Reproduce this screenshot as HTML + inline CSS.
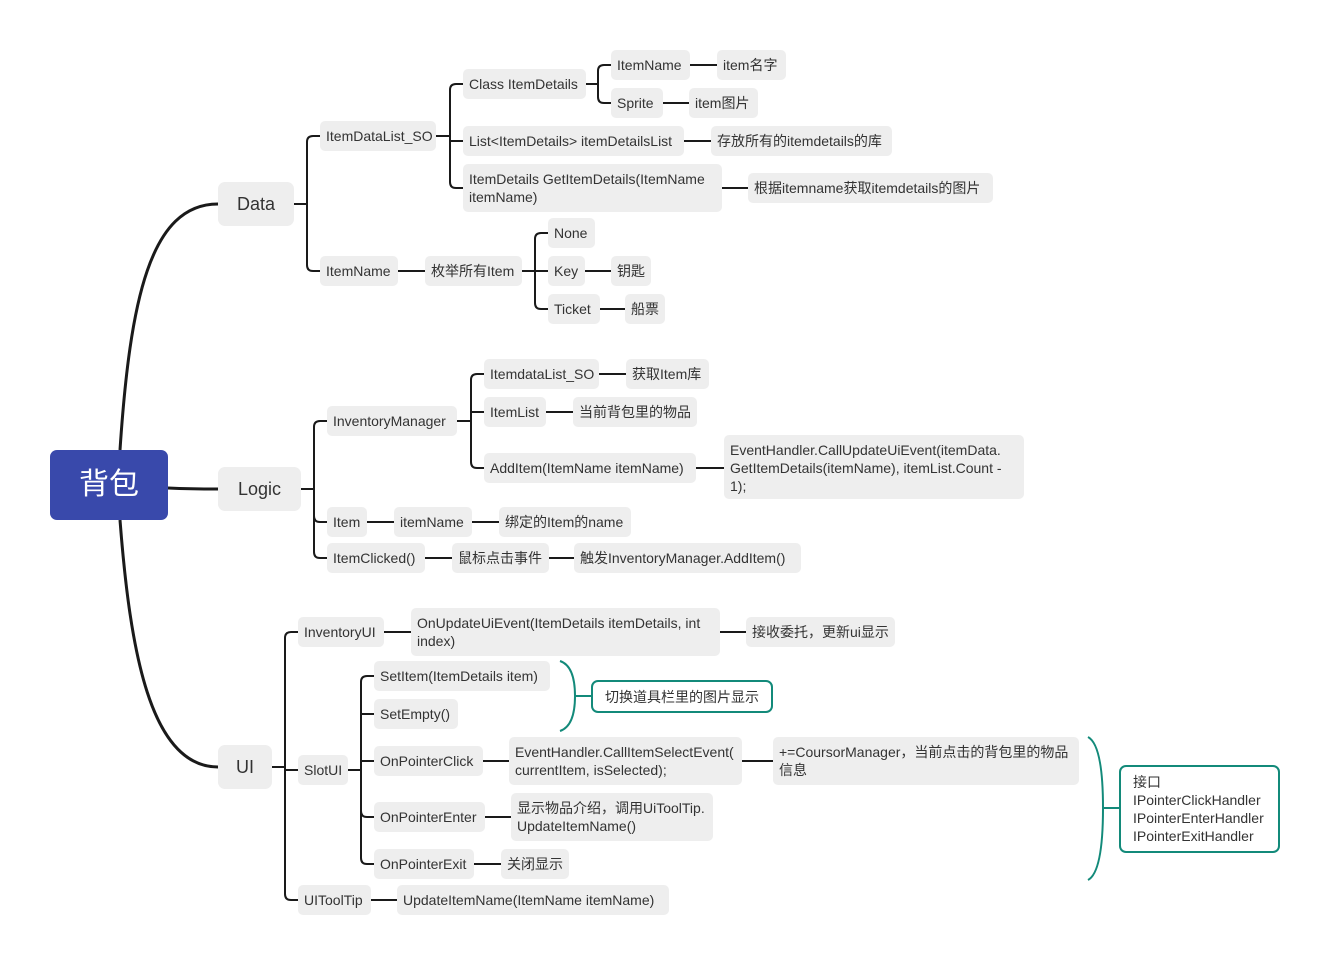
<!DOCTYPE html>
<html><head><meta charset="utf-8">
<style>
body{margin:0;width:1330px;height:966px;background:#fff;position:relative;overflow:hidden;font-family:"Liberation Sans","Noto Sans CJK SC",sans-serif;}
.n{position:absolute;background:#eeeeee;border-radius:5px;color:#333;font-size:14px;letter-spacing:0;line-height:18px;padding:6px 6px;box-sizing:border-box;white-space:nowrap;}
.m{white-space:normal;}
.b{font-size:18px;letter-spacing:0;padding:0;display:flex;align-items:center;justify-content:center;border-radius:7px;}
.t{position:absolute;border:2px solid #138a7a;border-radius:7px;background:#fff;color:#333;font-size:14px;letter-spacing:0;line-height:18px;box-sizing:border-box;padding:6px 12px;white-space:nowrap;}
svg{position:absolute;left:0;top:0;}
</style></head><body>
<svg width="1330" height="966" fill="none" stroke="#1a1a1a" stroke-width="2">
<g stroke-width="3">
<path d="M120 450 C130 300,150 204,218 204"/>
<path d="M168 488 C190 489,200 489,218 489"/>
<path d="M120 520 C130 650,150 767,218 767"/>
</g>
<path d="M294 204H307 M307 204V142Q307 136 313 136H320 M307 204V265Q307 271 313 271H320"/>
<path d="M436 136H450 M450 136V90Q450 84 456 84H463 M450 136V141H463 M450 136V182Q450 188 456 188H463"/>
<path d="M586 84H598 M598 84V71Q598 65 604 65H611 M598 84V97Q598 103 604 103H611"/>
<path d="M690 65H717 M663 103H689 M684 141H711 M722 188H748 M398 271H425"/>
<path d="M522 271H535 M535 271V239Q535 233 541 233H548 M535 271H548 M535 271V303Q535 309 541 309H548"/>
<path d="M585 271H611 M600 309H625"/>
<path d="M301 489H314 M314 489V427Q314 421 320 421H327 M314 489V516Q314 522 320 522H327 M314 489V552Q314 558 320 558H327"/>
<path d="M457 421H471 M471 421V380Q471 374 477 374H484 M471 421V412H484 M471 421V462Q471 468 477 468H484"/>
<path d="M599 374H626 M546 412H573 M696 468H724 M367 522H394 M472 522H499 M425 558H452 M549 558H574"/>
<path d="M272 767H285 M285 767V638Q285 632 291 632H298 M285 767V770H298 M285 767V894Q285 900 291 900H298"/>
<path d="M384 632H411 M720 632H746"/>
<path d="M348 770H361 M361 770V682Q361 676 367 676H374 M361 770V714H374 M361 770V761H374 M361 770V811Q361 817 367 817H374 M361 770V858Q361 864 367 864H374"/>
<path d="M483 761H509 M742 761H773 M485 817H511 M474 864H501 M371 900H397"/>
<g stroke="#138a7a">
<path d="M560 661Q575 666 575 696Q575 726 560 731 M575 696H591"/>
<path d="M1088 737Q1103 745 1103 808Q1103 872 1088 880 M1103 808H1119"/>
</g>
</svg>
<div class="n b" style="left:50px;top:450px;width:118px;height:70px;background:#3949ab;color:#fff;font-size:30px;">背包</div>
<div class="n b" style="left:218px;top:182px;width:76px;height:44px;">Data</div>
<div class="n b" style="left:218px;top:467px;width:83px;height:44px;">Logic</div>
<div class="n b" style="left:218px;top:745px;width:54px;height:44px;">UI</div>

<div class="n" style="left:320px;top:121px;width:116px;height:30px;">ItemDataList_SO</div>
<div class="n" style="left:320px;top:256px;width:78px;height:30px;">ItemName</div>
<div class="n" style="left:463px;top:69px;width:123px;height:30px;">Class ItemDetails</div>
<div class="n" style="left:463px;top:126px;width:221px;height:30px;">List&lt;ItemDetails&gt; itemDetailsList</div>
<div class="n m" style="left:463px;top:164px;width:259px;height:48px;">ItemDetails GetItemDetails(ItemName itemName)</div>
<div class="n" style="left:611px;top:50px;width:79px;height:30px;">ItemName</div>
<div class="n" style="left:611px;top:88px;width:52px;height:30px;">Sprite</div>
<div class="n" style="left:717px;top:50px;width:69px;height:30px;">item名字</div>
<div class="n" style="left:689px;top:88px;width:69px;height:30px;">item图片</div>
<div class="n" style="left:711px;top:126px;width:181px;height:30px;">存放所有的itemdetails的库</div>
<div class="n" style="left:748px;top:173px;width:245px;height:30px;">根据itemname获取itemdetails的图片</div>
<div class="n" style="left:425px;top:256px;width:97px;height:30px;">枚举所有Item</div>
<div class="n" style="left:548px;top:218px;width:47px;height:30px;">None</div>
<div class="n" style="left:548px;top:256px;width:37px;height:30px;">Key</div>
<div class="n" style="left:548px;top:294px;width:52px;height:30px;">Ticket</div>
<div class="n" style="left:611px;top:256px;width:40px;height:30px;">钥匙</div>
<div class="n" style="left:625px;top:294px;width:40px;height:30px;">船票</div>

<div class="n" style="left:327px;top:406px;width:130px;height:30px;">InventoryManager</div>
<div class="n" style="left:327px;top:507px;width:40px;height:30px;">Item</div>
<div class="n" style="left:327px;top:543px;width:98px;height:30px;">ItemClicked()</div>
<div class="n" style="left:484px;top:359px;width:115px;height:30px;">ItemdataList_SO</div>
<div class="n" style="left:484px;top:397px;width:62px;height:30px;">ItemList</div>
<div class="n" style="left:484px;top:453px;width:212px;height:30px;">AddItem(ItemName itemName)</div>
<div class="n" style="left:626px;top:359px;width:83px;height:30px;">获取Item库</div>
<div class="n" style="left:573px;top:397px;width:124px;height:30px;">当前背包里的物品</div>
<div class="n m" style="left:724px;top:435px;width:300px;height:64px;">EventHandler.CallUpdateUiEvent(itemData.<br>GetItemDetails(itemName), itemList.Count -<br>1);</div>
<div class="n" style="left:394px;top:507px;width:78px;height:30px;">itemName</div>
<div class="n" style="left:499px;top:507px;width:132px;height:30px;">绑定的Item的name</div>
<div class="n" style="left:452px;top:543px;width:97px;height:30px;">鼠标点击事件</div>
<div class="n" style="left:574px;top:543px;width:227px;height:30px;">触发InventoryManager.AddItem()</div>

<div class="n" style="left:298px;top:617px;width:86px;height:30px;">InventoryUI</div>
<div class="n" style="left:298px;top:755px;width:50px;height:30px;">SlotUI</div>
<div class="n" style="left:298px;top:885px;width:73px;height:30px;">UIToolTip</div>
<div class="n m" style="left:411px;top:608px;width:309px;height:48px;">OnUpdateUiEvent(ItemDetails itemDetails, int<br>index)</div>
<div class="n" style="left:746px;top:617px;width:149px;height:30px;">接收委托，更新ui显示</div>
<div class="n" style="left:374px;top:661px;width:176px;height:30px;">SetItem(ItemDetails item)</div>
<div class="n" style="left:374px;top:699px;width:84px;height:30px;">SetEmpty()</div>
<div class="n" style="left:374px;top:746px;width:109px;height:30px;">OnPointerClick</div>
<div class="n m" style="left:509px;top:737px;width:233px;height:48px;">EventHandler.CallItemSelectEvent(<br>currentItem, isSelected);</div>
<div class="n m" style="left:773px;top:737px;width:306px;height:48px;">+=CoursorManager，当前点击的背包里的物品<br>信息</div>
<div class="n" style="left:374px;top:802px;width:111px;height:30px;">OnPointerEnter</div>
<div class="n m" style="left:511px;top:793px;width:202px;height:48px;">显示物品介绍，调用UiToolTip.<br>UpdateItemName()</div>
<div class="n" style="left:374px;top:849px;width:100px;height:30px;">OnPointerExit</div>
<div class="n" style="left:501px;top:849px;width:68px;height:30px;">关闭显示</div>
<div class="n" style="left:397px;top:885px;width:272px;height:30px;">UpdateItemName(ItemName itemName)</div>

<div class="t" style="left:591px;top:680px;width:182px;height:33px;">切换道具栏里的图片显示</div>
<div class="t" style="left:1119px;top:765px;width:161px;height:88px;padding:6px 12px;">接口<br>IPointerClickHandler<br>IPointerEnterHandler<br>IPointerExitHandler</div>
</body></html>
